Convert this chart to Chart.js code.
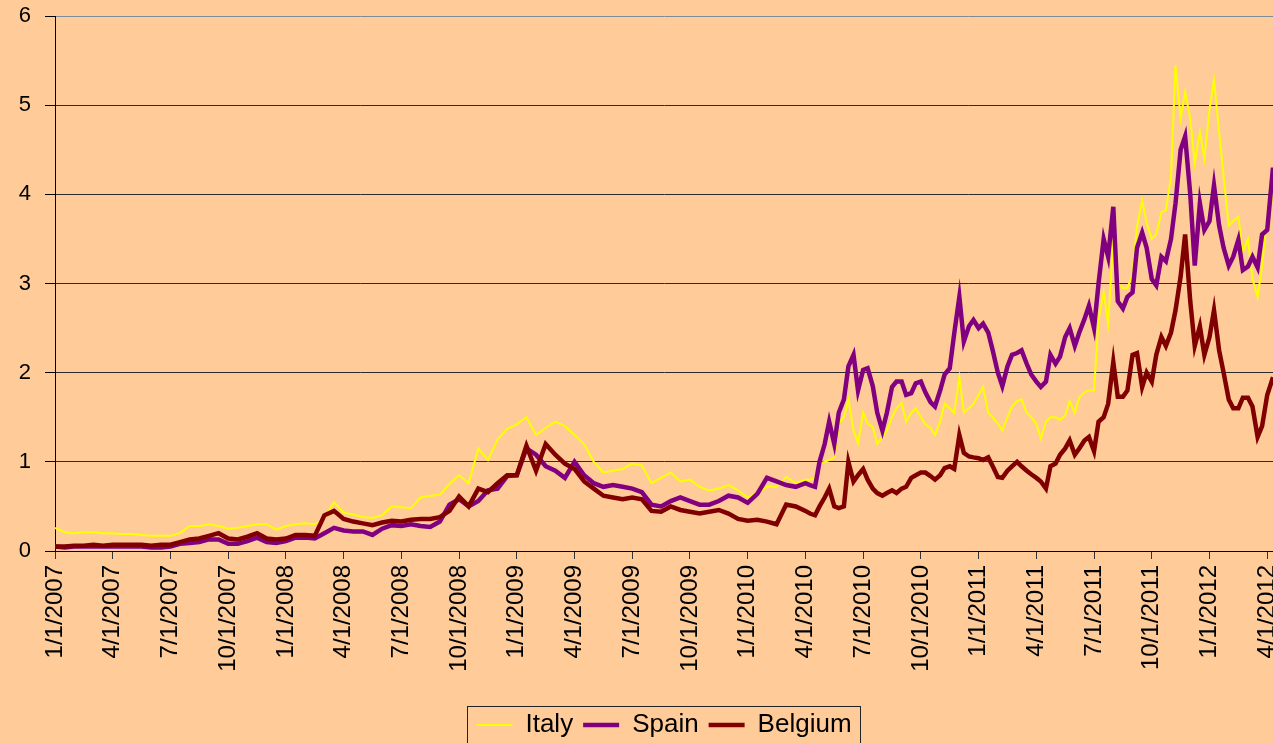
<!DOCTYPE html>
<html>
<head>
<meta charset="utf-8">
<title>Italy, Spain, Belgium</title>
<script src="https://cdn.jsdelivr.net/npm/chart.js@4.4.1/dist/chart.umd.min.js"></script>
<style>
  html, body { margin: 0; padding: 0; background: #FFCC99; }
  #wrap { width: 1273px; height: 743px; position: relative; }
</style>
</head>
<body>
<div id="wrap"><canvas id="spreads"></canvas></div>
<script>
// sample dates (semi-monthly to 3/2010, then weekly)
var dates = [
  '1/1/2007','1/16/2007','2/1/2007','2/16/2007','3/1/2007','3/16/2007','4/1/2007','4/16/2007','5/1/2007','5/16/2007','6/1/2007','6/16/2007',
  '7/1/2007','7/16/2007','8/1/2007','8/16/2007','9/1/2007','9/16/2007','10/1/2007','10/16/2007','11/1/2007','11/16/2007','12/1/2007','12/16/2007',
  '1/1/2008','1/16/2008','2/1/2008','2/16/2008','3/1/2008','3/16/2008','4/1/2008','4/16/2008','5/1/2008','5/16/2008','6/1/2008','6/16/2008',
  '7/1/2008','7/16/2008','8/1/2008','8/16/2008','9/1/2008','9/16/2008','10/1/2008','10/16/2008','11/1/2008','11/16/2008','12/1/2008','12/16/2008',
  '1/1/2009','1/16/2009','2/1/2009','2/16/2009','3/1/2009','3/16/2009','4/1/2009','4/16/2009','5/1/2009','5/16/2009','6/1/2009','6/16/2009',
  '7/1/2009','7/16/2009','8/1/2009','8/16/2009','9/1/2009','9/16/2009','10/1/2009','10/16/2009','11/1/2009','11/16/2009','12/1/2009','12/16/2009',
  '1/1/2010','1/16/2010','2/1/2010','2/16/2010','3/1/2010','3/16/2010',
  '4/1/2010','4/8/2010','4/16/2010','4/23/2010','5/1/2010','5/8/2010','5/16/2010','5/23/2010','6/1/2010','6/8/2010','6/16/2010','6/23/2010',
  '7/1/2010','7/8/2010','7/16/2010','7/23/2010','8/1/2010','8/8/2010','8/16/2010','8/23/2010','9/1/2010','9/8/2010','9/16/2010','9/23/2010',
  '10/1/2010','10/8/2010','10/16/2010','10/23/2010','11/1/2010','11/8/2010','11/16/2010','11/23/2010','12/1/2010','12/8/2010','12/16/2010','12/23/2010',
  '1/1/2011','1/8/2011','1/16/2011','1/23/2011','2/1/2011','2/8/2011','2/16/2011','2/23/2011','3/1/2011','3/8/2011','3/16/2011','3/23/2011',
  '4/1/2011','4/8/2011','4/16/2011','4/23/2011','5/1/2011','5/8/2011','5/16/2011','5/23/2011','6/1/2011','6/8/2011','6/16/2011','6/23/2011',
  '7/1/2011','7/8/2011','7/16/2011','7/23/2011','8/1/2011','8/8/2011','8/16/2011','8/23/2011','9/1/2011','9/8/2011','9/16/2011','9/23/2011',
  '10/1/2011','10/8/2011','10/16/2011','10/23/2011','11/1/2011','11/8/2011','11/16/2011','11/23/2011','12/1/2011','12/8/2011','12/16/2011','12/23/2011',
  '1/1/2012','1/8/2012','1/16/2012','1/23/2012','2/1/2012','2/8/2012','2/16/2012','2/23/2012','3/1/2012','3/8/2012','3/16/2012','3/23/2012',
  '4/1/2012','4/10/2012'
];

var italy = [
  0.26,0.21,0.2,0.21,0.21,0.2,0.2,0.19,0.19,0.18,0.17,0.17,0.17,0.2,0.28,0.28,0.3,0.28,0.25,0.26,0.28,0.3,0.3,0.24,
  0.28,0.3,0.31,0.3,0.36,0.55,0.43,0.41,0.38,0.37,0.4,0.5,0.49,0.48,0.6,0.62,0.63,0.75,0.85,0.76,1.15,1.02,1.25,1.37,
  1.42,1.5,1.3,1.38,1.45,1.4,1.3,1.2,1.0,0.88,0.9,0.92,0.98,0.96,0.76,0.82,0.88,0.78,0.8,0.72,0.68,0.7,0.74,0.68,
  0.6,0.65,0.72,0.72,0.83,0.76,
  0.8,0.8,0.82,0.98, 1.0,1.02,1.05,1.43, 1.5,1.7,1.35,1.21, 1.55,1.43,1.39,1.2, 1.28,1.35,1.5,1.6, 1.66,1.45,1.55,1.6,
  1.5,1.42,1.38,1.3, 1.45,1.65,1.6,1.55, 1.95,1.55,1.6,1.65,
  1.75,1.84,1.55,1.5, 1.43,1.35,1.5,1.62, 1.68,1.7,1.55,1.5, 1.43,1.26,1.45,1.5, 1.5,1.47,1.52,1.68, 1.55,1.72,1.78,1.8,
  1.8,2.6,2.9,2.55, 3.5,3.0,2.95,2.95, 3.1,3.64,3.93,3.68, 3.5,3.55,3.8,3.82, 4.2,5.45,4.85,5.15, 4.85,4.35,4.7,4.4,
  4.95,5.28,4.7,4.2, 3.65,3.7,3.75,3.35, 3.5,3.05,2.85,3.2,
  3.75,4.0
];

var spain = [
  0.05,0.04,0.05,0.05,0.05,0.05,0.05,0.05,0.05,0.05,0.04,0.04,0.05,0.08,0.09,0.1,0.13,0.13,0.08,0.08,0.11,0.15,0.1,0.09,
  0.11,0.15,0.15,0.14,0.2,0.26,0.23,0.22,0.22,0.18,0.25,0.29,0.28,0.3,0.28,0.27,0.33,0.52,0.58,0.5,0.56,0.68,0.7,0.84,
  0.85,1.15,1.08,0.95,0.9,0.82,1.0,0.85,0.76,0.72,0.74,0.72,0.7,0.66,0.52,0.5,0.56,0.6,0.56,0.52,0.52,0.56,0.62,0.6,
  0.54,0.64,0.82,0.78,0.74,0.72,
  0.76,0.74,0.72,1.0, 1.2,1.45,1.2,1.55, 1.7,2.07,2.2,1.8, 2.03,2.05,1.85,1.55, 1.35,1.55,1.84,1.9, 1.9,1.75,1.77,1.88,
  1.9,1.78,1.67,1.62, 1.8,1.98,2.05,2.44, 2.85,2.35,2.52,2.59,
  2.5,2.55,2.45,2.25, 2.0,1.85,2.07,2.2, 2.22,2.25,2.1,1.98, 1.9,1.84,1.9,2.2, 2.1,2.18,2.4,2.5, 2.3,2.45,2.6,2.75,
  2.5,3.0,3.5,3.3, 3.86,2.8,2.72,2.85, 2.9,3.4,3.57,3.4, 3.05,2.98,3.3,3.25, 3.5,3.9,4.5,4.65, 4.0,3.2,3.9,3.6,
  3.7,4.1,3.65,3.4, 3.2,3.3,3.49,3.15, 3.19,3.3,3.18,3.55,
  3.6,4.3
];

var belgium = [
  0.05,0.05,0.06,0.06,0.07,0.06,0.07,0.07,0.07,0.07,0.06,0.07,0.07,0.1,0.13,0.14,0.17,0.2,0.14,0.13,0.16,0.2,0.14,0.13,
  0.14,0.18,0.18,0.17,0.4,0.45,0.36,0.33,0.31,0.29,0.32,0.34,0.33,0.35,0.36,0.36,0.38,0.45,0.61,0.5,0.7,0.66,0.76,0.85,
  0.85,1.18,0.9,1.2,1.08,0.98,0.92,0.78,0.7,0.62,0.6,0.58,0.6,0.58,0.45,0.44,0.5,0.46,0.44,0.42,0.44,0.46,0.42,0.36,
  0.34,0.35,0.33,0.3,0.52,0.5,
  0.45,0.42,0.4,0.5, 0.6,0.7,0.5,0.48, 0.5,1.0,0.78,0.85, 0.92,0.8,0.7,0.65, 0.62,0.65,0.68,0.65, 0.7,0.72,0.82,0.85,
  0.88,0.88,0.84,0.8, 0.85,0.93,0.95,0.92, 1.3,1.1,1.06,1.05,
  1.04,1.02,1.05,0.95, 0.83,0.82,0.9,0.95, 1.0,0.95,0.9,0.86, 0.82,0.78,0.7,0.95, 0.98,1.08,1.15,1.24, 1.08,1.15,1.24,1.28,
  1.12,1.45,1.5,1.65, 2.12,1.73,1.73,1.8, 2.2,2.22,1.84,2.0, 1.9,2.2,2.4,2.3, 2.45,2.7,3.08,3.55, 2.8,2.3,2.52,2.2,
  2.4,2.7,2.25,2.0, 1.7,1.6,1.6,1.72, 1.72,1.62,1.28,1.4,
  1.75,1.95
];

var quarterLabels = [
  '1/1/2007','4/1/2007','7/1/2007','10/1/2007','1/1/2008','4/1/2008','7/1/2008','10/1/2008',
  '1/1/2009','4/1/2009','7/1/2009','10/1/2009','1/1/2010','4/1/2010','7/1/2010','10/1/2010',
  '1/1/2011','4/1/2011','7/1/2011','10/1/2011','1/1/2012','4/1/2012'
];

// months since 1/1/2007
function monthPos(s) {
  var p = s.split('/').map(Number);
  return (p[2] - 2007) * 12 + (p[0] - 1) + (p[1] - 1) / 30;
}

function toPoints(vals) {
  return vals.map(function(v, i) { return {x: monthPos(dates[i]), y: v}; });
}

// thin box round the legend, like the spreadsheet one
var legendFrame = {
  id: 'legendFrame',
  afterDraw: function(chart) {
    var boxes = chart.legend.legendHitBoxes;
    if (!boxes || !boxes.length) return;
    var last = boxes[boxes.length - 1];
    var left = Math.round(boxes[0].left - 9);
    var right = Math.round(last.left + last.width + 8);
    var top = Math.round(chart.legend.top + 4);
    var ctx = chart.ctx;
    ctx.save();
    ctx.strokeStyle = '#222';
    ctx.lineWidth = 1;
    ctx.strokeRect(left + 0.5, top + 0.5, right - left, 80);
    ctx.restore();
  }
};

Chart.defaults.font.family = '"Liberation Sans", Arial, sans-serif';
Chart.defaults.color = '#000';

new Chart(document.getElementById('spreads'), {
  type: 'line',
  data: {
    datasets: [
      { label: 'Italy', data: toPoints(italy), borderColor: '#FFFF00', backgroundColor: '#FFFF00', borderWidth: 2, order: 3 },
      { label: 'Spain', data: toPoints(spain), borderColor: '#800080', backgroundColor: '#800080', borderWidth: 4.5, order: 2 },
      { label: 'Belgium', data: toPoints(belgium), borderColor: '#800000', backgroundColor: '#800000', borderWidth: 4.5, order: 1 }
    ]
  },
  options: {
    responsive: true,
    maintainAspectRatio: false,
    animation: false,
    layout: { padding: { top: 16, right: 0, left: 0, bottom: -5 } },
    elements: { point: { radius: 0 }, line: { tension: 0 } },
    plugins: {
      tooltip: { enabled: false },
      legend: {
        position: 'bottom',
        fullSize: false,
        labels: {
          usePointStyle: true,
          pointStyle: 'line',
          pointStyleWidth: 36,
          padding: 10,
          font: { size: 26 },
          sort: function(a, b) { return a.datasetIndex - b.datasetIndex; }
        }
      }
    },
    scales: {
      x: {
        type: 'linear',
        min: 0,
        max: 63.3,
        border: { color: '#000', width: 1 },
        grid: { drawOnChartArea: false, drawTicks: true, tickLength: 8, tickColor: '#333' },
        ticks: {
          stepSize: 3,
          autoSkip: false,
          includeBounds: false,
          minRotation: 90,
          maxRotation: 90,
          padding: 6,
          font: { size: 24 },
          callback: function(v) { return quarterLabels[Math.round(v / 3)]; }
        },
        afterFit: function(s) { s.height = 151; s.paddingLeft = 0; s.paddingRight = 0; }
      },
      y: {
        min: 0,
        max: 6,
        border: { color: '#000', width: 1 },
        grid: {
          color: function(c) { return c.tick && c.tick.value === 6 ? '#7d8a98' : '#2b2b2b'; },
          tickColor: '#000',
          tickLength: 10
        },
        ticks: { stepSize: 1, padding: 14, font: { size: 22 } },
        afterFit: function(s) { s.width = 55; s.paddingTop = 0; s.paddingBottom = 0; }
      }
    }
  },
  plugins: [legendFrame]
});
</script>
</body>
</html>
